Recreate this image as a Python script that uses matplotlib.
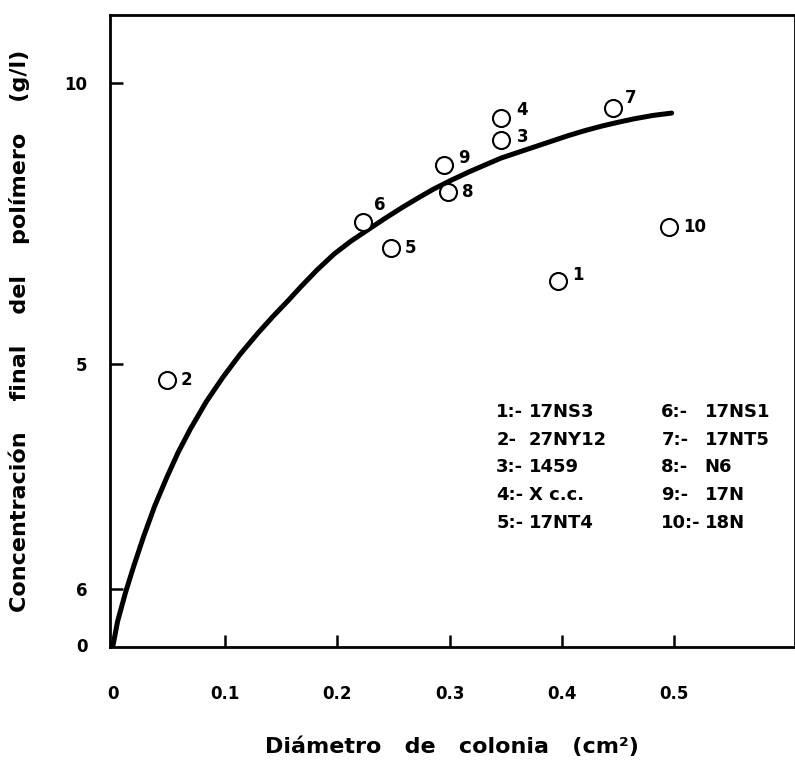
import matplotlib
matplotlib.use("Agg")
import matplotlib.pyplot as plt
import numpy as np

# datos
cepa_num = ["1", "2", "3", "4", "5", "6", "7", "8", "9", "10"]
cepa_nombre = ["17NS3", "27NY12", "1459", "X c.c.", "17NT4",
               "17NS1", "17NT5", "N6", "17N", "18N"]
diametro = [0.397, 0.048, 0.346, 0.346, 0.248, 0.223, 0.446, 0.299, 0.295, 0.496]
concentracion = [6.49, 4.72, 8.99, 9.38, 7.06, 7.53, 9.56, 8.06, 8.54, 7.44]

# curva ajustada (trazada a mano en el original)
curva_x = [0.0, 0.004, 0.011, 0.018, 0.027, 0.037, 0.048, 0.058, 0.069, 0.083,
           0.098, 0.113, 0.129, 0.143, 0.156, 0.167, 0.182, 0.197, 0.212, 0.227,
           0.242, 0.257, 0.272, 0.286, 0.302, 0.317, 0.332, 0.346, 0.361, 0.376,
           0.391, 0.406, 0.421, 0.436, 0.451, 0.465, 0.482, 0.498]
curva_y = [0.0, 0.42, 0.93, 1.38, 1.92, 2.47, 2.99, 3.43, 3.85, 4.33,
           4.77, 5.17, 5.55, 5.86, 6.13, 6.37, 6.68, 6.96, 7.19, 7.39,
           7.59, 7.78, 7.96, 8.12, 8.28, 8.42, 8.55, 8.67, 8.77, 8.87,
           8.97, 9.07, 9.16, 9.24, 9.31, 9.37, 9.43, 9.47]

xticks = [0.0, 0.1, 0.2, 0.3, 0.4, 0.5]
xtick_labels = ["0", "0.1", "0.2", "0.3", "0.4", "0.5"]
yticks = [0, 1, 5, 10]
ytick_labels = ["0", "6", "5", "10"]

# desplazamiento de cada numero respecto a su circulo (puntos)
offsets = {"1": (10, 4), "2": (10, 0), "3": (11, 2), "4": (11, 6), "5": (10, 0),
           "6": (8, 12), "7": (8, 7), "8": (10, 0), "9": (10, 5), "10": (10, 0)}

plt.rcParams["font.family"] = "DejaVu Sans"
plt.rcParams["font.weight"] = "bold"
plt.rcParams["axes.labelweight"] = "bold"

fig = plt.figure(figsize=(7.95, 7.67), dpi=100)
ax = fig.add_axes([0.138, 0.156, 0.862, 0.824])

ax.plot(curva_x, curva_y, color="black", lw=3.6, solid_capstyle="round",
        solid_joinstyle="round")
ax.scatter(diametro, concentracion, s=150, facecolors="white",
           edgecolors="black", linewidths=1.5, zorder=3)

for n, x, y in zip(cepa_num, diametro, concentracion):
    ax.annotate(n, (x, y), xytext=offsets[n], textcoords="offset points",
                ha="left", va="center", fontsize=12)

# tabla de cepas
filas = [0.372, 0.328, 0.285, 0.241, 0.196]
for i in range(10):
    col = i // 5
    fy = filas[i % 5]
    sep = "-" if cepa_num[i] == "2" else ":-"
    ax.text([0.564, 0.805][col], fy, cepa_num[i] + sep, transform=ax.transAxes,
            ha="left", va="center", fontsize=13)
    ax.text([0.612, 0.868][col], fy, cepa_nombre[i], transform=ax.transAxes,
            ha="left", va="center", fontsize=13)

ax.set_xlim(-0.003, 0.608)
ax.set_ylim(-0.04, 11.21)
ax.set_xticks(xticks)
ax.set_xticklabels(xtick_labels)
ax.set_yticks(yticks)
ax.set_yticklabels(ytick_labels)
ax.tick_params(axis="x", direction="in", length=9, width=1.8, pad=27, labelsize=12)
ax.tick_params(axis="y", direction="in", length=9, width=1.8, pad=16, labelsize=12)
# sin marca en el origen
ax.xaxis.get_major_ticks()[0].tick1line.set_visible(False)
ax.yaxis.get_major_ticks()[0].tick1line.set_visible(False)

for sp in ax.spines.values():
    sp.set_linewidth(2)

ax.set_xlabel("Diámetro   de   colonia   (cm²)", fontsize=16, labelpad=24)
ax.set_ylabel("Concentración    final    del    polímero    (g/l)", fontsize=16,
              labelpad=25)

fig.savefig("out.png", dpi=100)
